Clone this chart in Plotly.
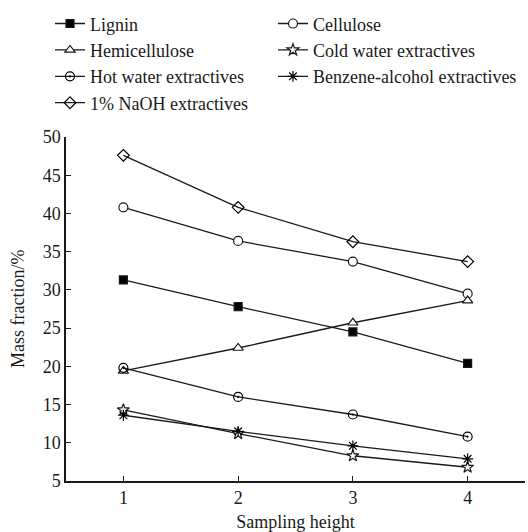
import plotly.graph_objects as go

heights = [1, 2, 3, 4]
lignin = [31.3, 27.8, 24.5, 20.4]
cellulose = [40.8, 36.4, 33.7, 29.5]
hemicellulose = [19.4, 22.4, 25.7, 28.6]
cold_water = [14.3, 11.2, 8.3, 6.8]
hot_water = [19.8, 16.0, 13.7, 10.8]
benzene_alcohol = [13.6, 11.5, 9.6, 7.9]
naoh = [47.6, 40.8, 36.3, 33.7]

names = ["Lignin", "Cellulose", "Hemicellulose", "Cold water extractives",
         "Hot water extractives", "Benzene-alcohol extractives", "1% NaOH extractives"]
series = [lignin, cellulose, hemicellulose, cold_water, hot_water, benzene_alcohol, naoh]
symbols = ["square", "circle", "triangle-up", "star", "circle-open-dot", "asterisk-open", "diamond-open"]
fills = ["black", "white", "white", "white", "black", "black", "black"]
sizes = [8, 9, 9, 9, 9, 9, 9]
legend_ids = ["legend", "legend2", "legend", "legend2", "legend", "legend2", "legend"]
y_title = "Mass fraction/%"
x_title = "Sampling height"

FONT = "Liberation Serif"
INK = "#1a1a1a"

fig = go.Figure()
for name, vals, sym, fc, sz, lg in zip(names, series, symbols, fills, sizes, legend_ids):
    fig.add_trace(go.Scatter(
        x=heights, y=vals, name=name, mode="lines+markers", legend=lg,
        line=dict(color=INK, width=1.3),
        marker=dict(symbol=sym, size=sz, color=fc, line=dict(color=INK, width=1.2)),
    ))

legend_common = dict(
    orientation="v", xref="container", yref="container",
    xanchor="left", yanchor="top",
    font=dict(family=FONT, size=18, color=INK),
    bgcolor="rgba(0,0,0,0)", tracegroupgap=0,
)

fig.update_layout(
    width=528, height=532,
    margin=dict(l=66, r=3, t=137, b=51, autoexpand=False),
    paper_bgcolor="white", plot_bgcolor="white",
    font=dict(family=FONT, size=18, color=INK),
    showlegend=True,
    legend=dict(x=0.0947, y=0.990, **legend_common),
    legend2=dict(x=0.517, y=0.990, **legend_common),
    xaxis=dict(
        range=[0.5, 4.5], tickvals=[1, 2, 3, 4], ticks="inside", ticklen=5,
        tickwidth=1.3, tickcolor=INK, ticklabelstandoff=0,
        showline=True, linecolor=INK, linewidth=1.5, showgrid=False, zeroline=False,
        automargin=False,
        title=dict(text=x_title, standoff=9, font=dict(family=FONT, size=18)),
        minor=dict(tickvals=[4.5], ticks="inside", ticklen=5, tickcolor=INK, tickwidth=1.3),
    ),
    yaxis=dict(
        range=[5, 50], tickvals=list(range(5, 51, 5)), ticks="inside", ticklen=5,
        tickwidth=1.3, tickcolor=INK,
        showline=True, linecolor=INK, linewidth=1.5, showgrid=False, zeroline=False,
        automargin=False,
    ),
    annotations=[dict(
        text=y_title, xref="paper", yref="paper", x=-0.1046, y=0.5,
        xanchor="center", yanchor="middle", textangle=-90, showarrow=False,
        font=dict(family=FONT, size=18, color=INK),
    )],
)

fig.write_html("out.html", config={"displayModeBar": False},
               post_script="document.body.style.margin='0';")
